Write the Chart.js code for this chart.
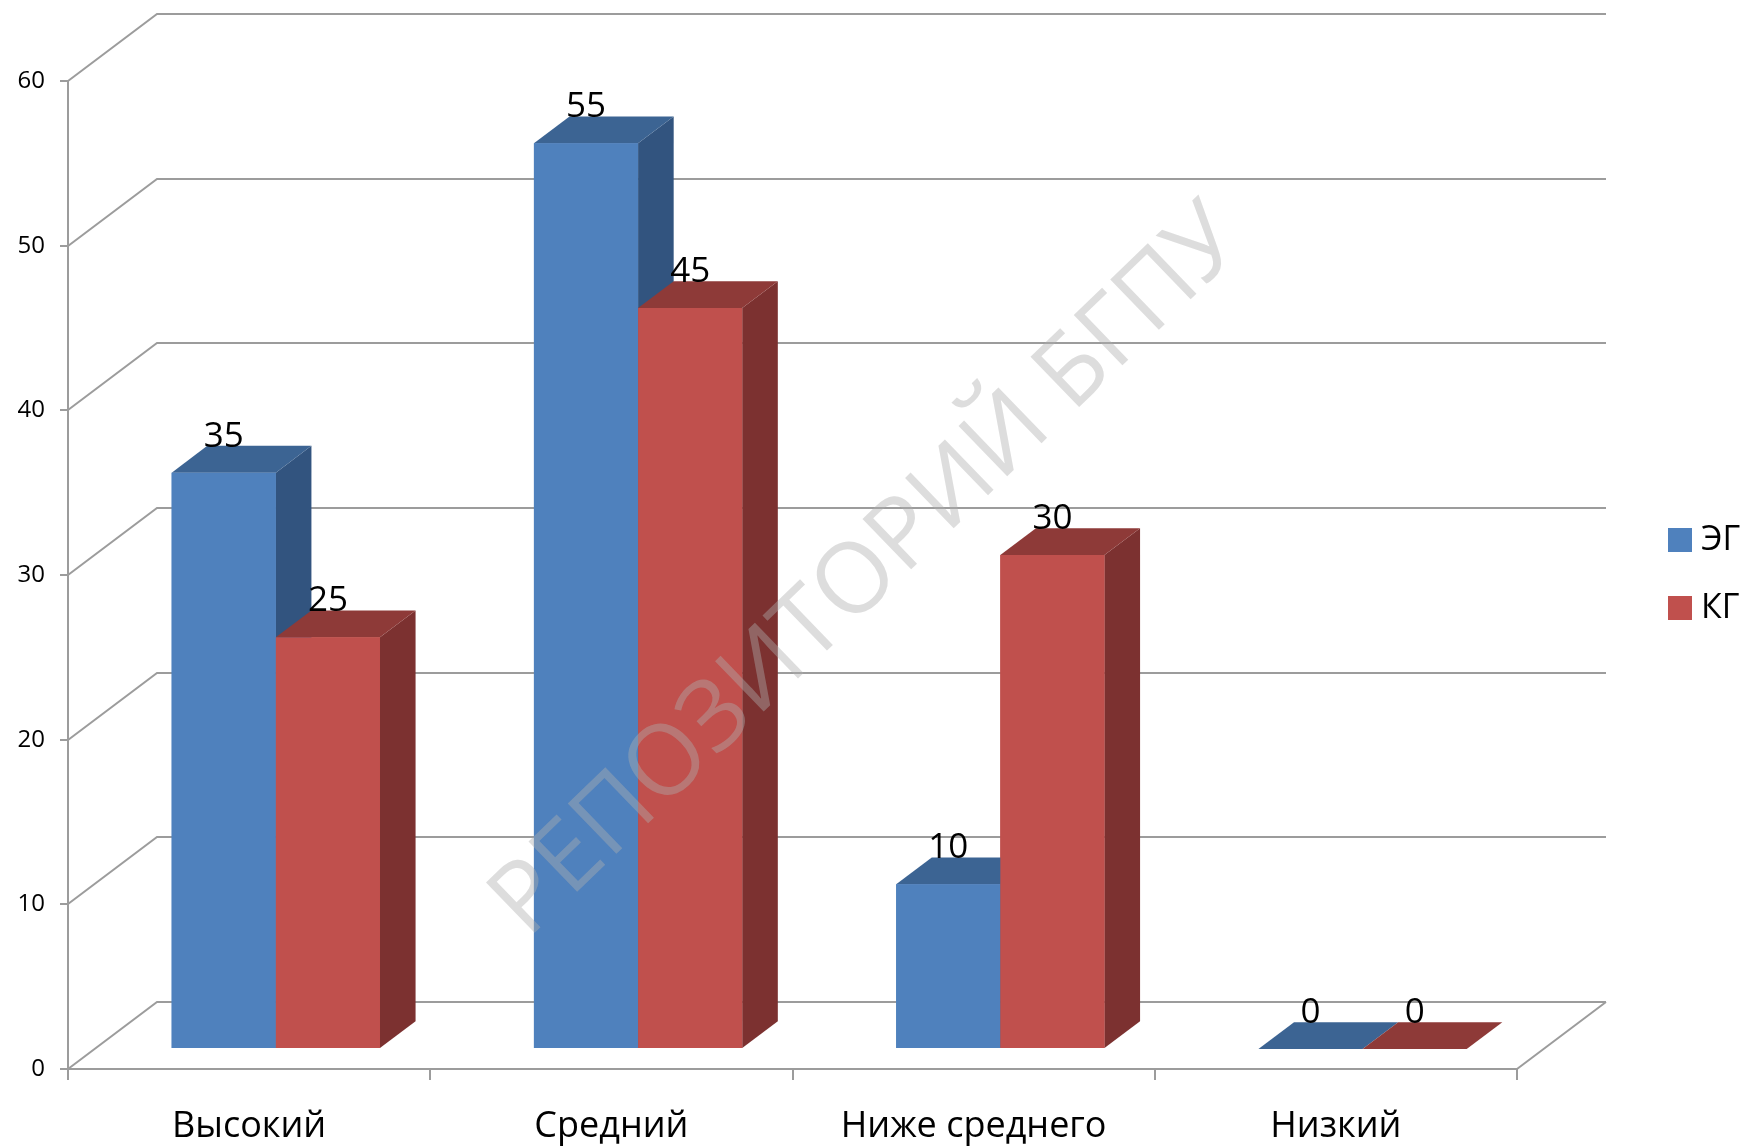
<!DOCTYPE html>
<html><head><meta charset="utf-8">
<script src="https://cdn.jsdelivr.net/npm/chart.js@4.4.1/dist/chart.umd.min.js"></script>
<style>html,body{margin:0;padding:0;background:#fff;overflow:hidden}canvas{display:block}</style>
</head><body>
<canvas id="c" width="1749" height="1147"></canvas>
<script>
const categories = ['Высокий', 'Средний', 'Ниже среднего', 'Низкий'];
const seriesNames = ['ЭГ', 'КГ'];
const egValues = [35, 55, 10, 0];
const kgValues = [25, 45, 30, 0];
const yTickValues = [0, 10, 20, 30, 40, 50, 60];
const watermarkText = 'РЕПОЗИТОРИЙ БГПУ';

const FONT = "'Open Sans', 'DejaVu Sans', sans-serif";
const GRID = '#9c9c9c';
const WALL = {dx: 89, dy: 67};
const BAR_OFF = {dx: 26.7, dy: 20};
const BAR_DEPTH = {dx: 35.6, dy: 26.8};
const faceColors = [
  {front: '#4F81BD', top: '#3C6493', side: '#32547F'},
  {front: '#C0504D', top: '#8E3A38', side: '#7C3130'}
];

const threeD = {
  id: 'threeD',
  beforeDraw(chart) {
    const ctx = chart.ctx;
    ctx.save(); ctx.fillStyle = '#fff'; ctx.fillRect(0, 0, chart.width, chart.height); ctx.restore();
  },
  beforeDatasetsDraw(chart) {
    const {ctx, chartArea: a, scales: {y}} = chart;
    ctx.save();
    ctx.strokeStyle = GRID; ctx.lineWidth = 2;
    ctx.beginPath();
    yTickValues.forEach(v => {
      const py = Math.round(y.getPixelForValue(v));
      ctx.moveTo(a.left, py);
      ctx.lineTo(a.left + WALL.dx, py - WALL.dy);
      ctx.lineTo(a.right + WALL.dx, py - WALL.dy);
    });
    const p0 = Math.round(y.getPixelForValue(0));
    ctx.moveTo(a.right, p0); ctx.lineTo(a.right + WALL.dx, p0 - WALL.dy);
    ctx.stroke();
    ctx.restore();
    ctx.save();
    ctx.translate(BAR_OFF.dx, -BAR_OFF.dy);
  },
  afterDatasetsDraw(chart) {
    const ctx = chart.ctx;
    // 3D boxes, drawn series by series (left to right), front faces redrawn by the elements
    chart.data.datasets.forEach((ds, i) => {
      const meta = chart.getDatasetMeta(i);
      const c = faceColors[i];
      meta.data.forEach(el => {
        const {x, y, base, width} = el.getProps(['x', 'y', 'base', 'width'], true);
        const l = x - width / 2, r = x + width / 2, t = Math.min(y, base), b = Math.max(y, base);
        const dx = BAR_DEPTH.dx, dy = BAR_DEPTH.dy;
        ctx.fillStyle = c.side;
        ctx.beginPath(); ctx.moveTo(r, t); ctx.lineTo(r + dx, t - dy); ctx.lineTo(r + dx, b - dy); ctx.lineTo(r, b); ctx.closePath(); ctx.fill();
        ctx.fillStyle = c.top;
        ctx.beginPath(); ctx.moveTo(l, t); ctx.lineTo(r, t); ctx.lineTo(r + dx, t - dy); ctx.lineTo(l + dx, t - dy); ctx.closePath(); ctx.fill();
        el.draw(ctx);
      });
    });
    ctx.restore();
    ctx.save();
    ctx.fillStyle = '#000'; ctx.font = `35px ${FONT}`; ctx.textAlign = 'center'; ctx.textBaseline = 'middle';
    chart.data.datasets.forEach((ds, i) => {
      const meta = chart.getDatasetMeta(i);
      meta.data.forEach((el, j) => {
        const {x, y} = el.getProps(['x', 'y'], true);
        ctx.fillText(String(ds.data[j]), x + BAR_OFF.dx, y - BAR_OFF.dy - 36);
      });
    });
    ctx.restore();
  },
  afterDraw(chart) {
    const ctx = chart.ctx;
    ctx.save();
    ctx.font = `34px ${FONT}`; ctx.textBaseline = 'middle'; ctx.textAlign = 'left';
    chart.data.datasets.forEach((ds, i) => {
      const cy = 540 + i * 68;
      ctx.fillStyle = ds.backgroundColor;
      ctx.fillRect(1668, cy - 12, 24, 24);
      ctx.fillStyle = '#000';
      ctx.fillText(ds.label, 1701, cy);
    });
    ctx.restore();
    ctx.save();
    ctx.font = `100px ${FONT}`;
    const w = ctx.measureText(watermarkText).width;
    const size = 100 * 1000 / w;
    ctx.font = `${size}px ${FONT}`;
    ctx.translate(868, 572);
    ctx.rotate(-44 * Math.PI / 180);
    ctx.textAlign = 'center'; ctx.textBaseline = 'middle';
    ctx.fillStyle = 'rgba(175,175,175,0.42)';
    ctx.fillText(watermarkText, 0, 0);
    ctx.restore();
  }
};

new Chart(document.getElementById('c'), {
  type: 'bar',
  data: {
    labels: categories,
    datasets: [
      {label: seriesNames[0], data: egValues, backgroundColor: faceColors[0].front, clip: false},
      {label: seriesNames[1], data: kgValues, backgroundColor: faceColors[1].front, clip: false}
    ]
  },
  options: {
    responsive: false, animation: false, devicePixelRatio: 1,
    categoryPercentage: 0.575, barPercentage: 1,
    borderWidth: 0,
    layout: {padding: {left: 0, top: 81, right: 232, bottom: 0}},
    plugins: {legend: {display: false}, tooltip: {enabled: false}},
    scales: {
      x: {
        afterFit: s => { s.height = 78; },
        grid: {offset: true, drawOnChartArea: false, drawTicks: true, tickLength: 11, color: GRID, lineWidth: 2},
        border: {display: true, color: GRID, width: 2},
        ticks: {font: {family: FONT, size: 36}, color: '#000', padding: 25, autoSkip: false, maxRotation: 0}
      },
      y: {
        min: 0, max: 60,
        afterFit: s => { s.width = 68; },
        afterBuildTicks: s => { s.ticks = yTickValues.map(v => ({value: v})); },
        grid: {drawOnChartArea: false, drawTicks: true, tickLength: 8, color: GRID, lineWidth: 2},
        border: {display: true, color: GRID, width: 2},
        ticks: {font: {family: FONT, size: 24}, color: '#000', padding: 15}
      }
    }
  },
  plugins: [threeD]
});
</script>
</body></html>
